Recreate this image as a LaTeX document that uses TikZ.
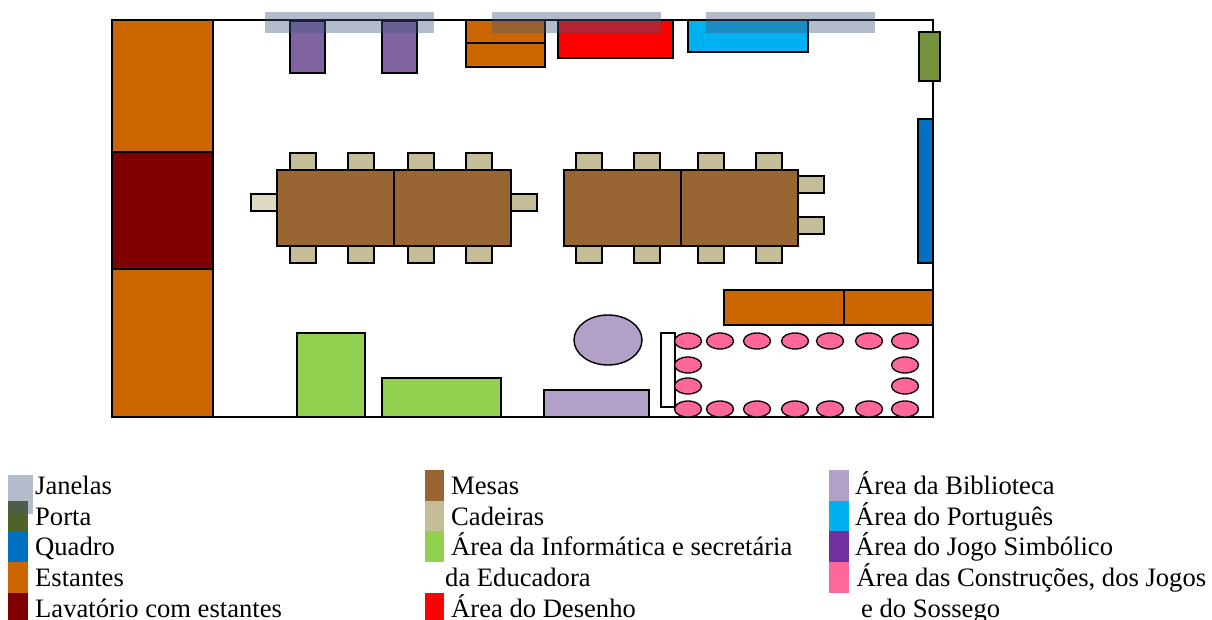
\documentclass[tikz,border=0pt]{standalone}
\usepackage{fontspec}
\setmainfont{Liberation Serif}
\definecolor{cOrange}{HTML}{CC6600}
\definecolor{cDark}{HTML}{800000}
\definecolor{cPurple}{HTML}{8064A2}
\definecolor{cRed}{HTML}{FF0000}
\definecolor{cCyan}{HTML}{00B0F0}
\definecolor{cDoor}{HTML}{76923C}
\definecolor{cDoorL}{HTML}{4F6228}
\definecolor{cBoard}{HTML}{0070C0}
\definecolor{cGreen}{HTML}{92D050}
\definecolor{cLib}{HTML}{B1A0C7}
\definecolor{cPink}{HTML}{FF6699}
\definecolor{cTable}{HTML}{996633}
\definecolor{cChair}{HTML}{C4BD97}
\definecolor{cChairL}{HTML}{DDD9C3}
\definecolor{cWin}{HTML}{44587F}
\definecolor{cJog}{HTML}{7030A0}
\tikzset{
  x=1pt,y=-1pt,
  item/.style={draw=black,line width=1.4pt},
  win/.style={fill=cWin,fill opacity=.4,draw=none},
  seat/.style={ellipse,draw=black,line width=1.3pt,fill=cPink,minimum width=27pt,minimum height=16pt,inner sep=0pt},
  leg/.style={anchor=base west,inner sep=0pt,font=\fontsize{26.6pt}{30pt}\selectfont,text=black},
}
\usetikzlibrary{shapes.geometric}
\newcommand{\chairbox}[3][cChair]{\draw[item,fill=#1] (#2,#3) rectangle ++(26,17);}
\begin{document}
\begin{tikzpicture}
\useasboundingbox (0,0) rectangle (1212,620);
% room
\draw[line width=1.4pt] (112,20) rectangle (933,417);
% left wall
\draw[item,fill=cOrange] (112,20) rectangle (213,152);
\draw[item,fill=cDark] (112,152) rectangle (213,269);
\draw[item,fill=cOrange] (112,269) rectangle (213,417);
% top wall
\draw[item,fill=cPurple] (290,21) rectangle (325,73);
\draw[item,fill=cPurple] (382,21) rectangle (417,73);
\draw[item,fill=cOrange] (466,20) rectangle (545,43);
\draw[item,fill=cOrange] (466,43) rectangle (545,67);
\draw[item,fill=cRed] (558,20) rectangle (673,58);
\draw[item,fill=cCyan] (688,20) rectangle (808,52);
% windows
\fill[win] (265,12) rectangle (434,33);
\fill[win] (492,12) rectangle (661,33);
\fill[win] (706,12) rectangle (875,33);
% right wall
\draw[item,fill=cDoor] (919,32) rectangle (940,81);
\draw[item,fill=cBoard] (918,119) rectangle (933,263);
\draw[item,fill=cOrange] (724,290) rectangle (844,325);
\draw[item,fill=cOrange] (844,290) rectangle (933,325);
% table 1
\foreach \x in {290,348,408,466}{\chairbox{\x}{153}\chairbox{\x}{246}}
\chairbox[cChairL]{251}{194}
\chairbox{511}{194}
\draw[item,fill=cTable] (277,170) rectangle (394,246);
\draw[item,fill=cTable] (394,170) rectangle (511,246);
% table 2
\foreach \x in {576,634,698,756}{\chairbox{\x}{153}\chairbox{\x}{246}}
\chairbox{798}{176}
\chairbox{798}{217}
\draw[item,fill=cTable] (564,170) rectangle (681,246);
\draw[item,fill=cTable] (681,170) rectangle (798,246);
% bottom
\draw[item,fill=cGreen] (297,333) rectangle (365,417);
\draw[item,fill=cGreen] (382,378) rectangle (501,417);
\draw[item,fill=cLib] (544,390) rectangle (649,417);
\draw[item,fill=cLib] (608,340) ellipse [x radius=34,y radius=25];
\draw[item,fill=white] (661,333) rectangle (675,407);
\foreach \x in {688,720,757,795,830,869,905}{
  \node[seat] at (\x,341) {};
  \node[seat] at (\x,409) {};
}
\foreach \x in {688,905}{
  \node[seat] at (\x,365) {};
  \node[seat] at (\x,386) {};
}
% legend swatches
\fill[cDoorL] (8,501) rectangle (28,531);
\fill[cBoard] (8,531) rectangle (28,562);
\fill[cOrange] (8,562) rectangle (28,593);
\fill[cDark] (8,593) rectangle (28,620);
\fill[cWin,fill opacity=.4] (8,475) rectangle (33,514);
\fill[cTable] (425,470) rectangle (444,501);
\fill[cChair] (425,501) rectangle (444,531);
\fill[cGreen] (425,531) rectangle (444,562);
\fill[cRed] (425,593) rectangle (444,620);
\fill[cLib] (829,470) rectangle (849,501);
\fill[cCyan] (829,501) rectangle (849,531);
\fill[cJog] (829,531) rectangle (849,562);
\fill[cPink] (829,562) rectangle (849,593);
% legend text
\node[leg] (t1) at (35,494) {Janelas};
\node[leg] (t2) at (35,525) {Porta};
\node[leg] (t3) at (35,555) {Quadro};
\node[leg] (t4) at (35,586) {Estantes};
\node[leg] (t5) at (35,617) {Lavatório com estantes};
\node[leg] (m1) at (451,494) {Mesas};
\node[leg] (m2) at (451,525) {Cadeiras};
\node[leg] (m3) at (451,555) {Área da Informática e secretária};
\node[leg] (m4) at (445,586) {da Educadora};
\node[leg] (m5) at (451,617) {Área do Desenho};
\node[leg] (r1) at (855,494) {Área da Biblioteca};
\node[leg] (r2) at (855,525) {Área do Português};
\node[leg] (r3) at (855,555) {Área do Jogo Simbólico};
\node[leg] (r4) at (856.5,586) {Área das Construções, dos Jogos};
\node[leg] (r5) at (861,617) {e do Sossego};
\end{tikzpicture}
\end{document}
